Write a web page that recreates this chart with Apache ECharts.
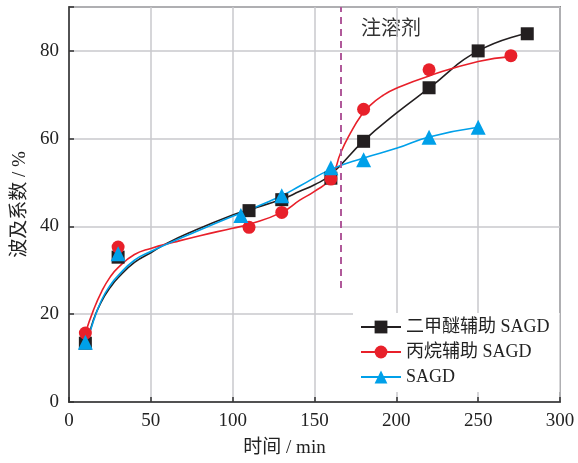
<!DOCTYPE html>
<html>
<head>
<meta charset="utf-8">
<script src="https://cdn.jsdelivr.net/npm/echarts@6/dist/echarts.min.js"></script>
<style>html,body{margin:0;padding:0;background:#fff}#c{width:578px;height:463px}</style>
</head>
<body>
<div id="c"></div>
<script>
// Series names
const names = ['二甲醚辅助 SAGD', '丙烷辅助 SAGD', 'SAGD'];
// Measured points
const dmeX = [10, 30, 110, 130, 160, 180, 220, 250, 280];
const dmeY = [13.4, 33.0, 43.6, 46.1, 51.0, 59.4, 71.6, 80.0, 83.9];
const propX = [10, 30, 110, 130, 160, 180, 220, 270];
const propY = [15.7, 35.3, 39.8, 43.2, 50.8, 66.7, 75.7, 78.9];
const sagdX = [10, 30, 105, 130, 160, 180, 220, 250];
const sagdY = [13.6, 33.8, 42.5, 47.0, 53.4, 55.2, 60.3, 62.6];
// Fitted curves
const dmeCurveX = [11, 15, 20, 25, 30, 40, 50, 60, 75, 100, 110, 130, 141, 150, 160, 180, 200, 220, 250, 280];
const dmeCurveY = [13.4, 18.8, 23.0, 26.0, 28.3, 31.8, 34.0, 36.2, 38.8, 42.6, 43.8, 46.2, 48.0, 49.5, 51.8, 59.5, 65.8, 71.5, 80.0, 84.0];
const propCurveX = [10, 15, 20, 25, 30, 40, 50, 64, 80, 100, 110, 130, 141, 150, 160, 166, 172, 178, 184, 192, 200, 220, 250, 270];
const propCurveY = [15.7, 21.0, 25.2, 28.4, 30.6, 33.6, 35.0, 36.4, 37.9, 39.6, 40.5, 43.2, 46.0, 48.0, 51.0, 56.8, 61.3, 65.0, 67.6, 69.9, 71.5, 74.3, 77.6, 78.7];
const sagdCurveX = [11, 15, 20, 25, 30, 40, 50, 60, 75, 100, 105, 130, 141, 160, 180, 200, 220, 250];
const sagdCurveY = [13.5, 18.5, 23.3, 26.5, 28.8, 32.3, 34.3, 36.0, 38.4, 42.3, 43.0, 47.0, 49.2, 53.0, 55.6, 57.8, 60.4, 62.6];
// Injection marker
const injectX = 166;
const injectYFrom = 26;
const annotation = '注溶剂';
// Axis ticks
const xTicks = [0, 50, 100, 150, 200, 250, 300];
const yTicks = [0, 20, 40, 60, 80];

const colors = ['#231f20', '#e8202a', '#00a0e9'];
const symbols = ['rect', 'circle', 'triangle'];
const symSizes = [13, 13, 15];
const zip = (a, b) => a.map((v, i) => [v, b[i]]);
const curves = [zip(dmeCurveX, dmeCurveY), zip(propCurveX, propCurveY), zip(sagdCurveX, sagdCurveY)];
const points = [zip(dmeX, dmeY), zip(propX, propY), zip(sagdX, sagdY)];

const serif = 'Liberation Serif, Noto Sans CJK SC, serif';
const series = [];
names.forEach((n, i) => {
  series.push({
    name: n, type: 'line', data: curves[i], smooth: 0.5, showSymbol: false,
    symbol: symbols[i], symbolSize: symSizes[i],
    lineStyle: { color: colors[i], width: 1.6 }, itemStyle: { color: colors[i] },
    z: 2, silent: true,
    markLine: i === 0 ? {
      silent: true, symbol: 'none', label: { show: false },
      lineStyle: { color: '#b0599a', type: [7, 5], width: 2 },
      data: [[{ coord: [injectX, injectYFrom] }, { coord: [injectX, 90] }]]
    } : undefined
  });
});
names.forEach((n, i) => {
  series.push({
    name: n, type: 'scatter', data: points[i], symbol: symbols[i], symbolSize: symSizes[i],
    itemStyle: { color: colors[i], opacity: 1 }, z: 3
  });
});

const chart = echarts.init(document.getElementById('c'));
chart.setOption({
  animation: false,
  backgroundColor: '#fff',
  textStyle: { fontFamily: serif },
  grid: { left: 69, right: 18, top: 7, bottom: 60, show: true, borderColor: '#333', borderWidth: 1.5 },
  xAxis: {
    type: 'value', min: xTicks[0], max: xTicks[xTicks.length - 1], interval: 50,
    name: '时间 / min', nameLocation: 'middle', nameGap: 37,
    nameTextStyle: { fontSize: 19, color: '#222', fontFamily: serif, padding: [0, 60, 0, 0] },
    axisLine: { show: true, lineStyle: { color: '#333', width: 1.5 } },
    axisTick: { show: true, inside: true, length: 5, lineStyle: { color: '#333', width: 1.5 } },
    axisLabel: { fontSize: 19, color: '#222', margin: 10, fontFamily: serif },
    splitLine: { show: true, lineStyle: { color: '#c8c8cc', width: 1.5 } }
  },
  yAxis: {
    type: 'value', min: 0, max: 90, interval: 20,
    name: '波及系数 / %', nameLocation: 'middle', nameGap: 38, nameRotate: 90,
    nameTextStyle: { fontSize: 19, color: '#222', fontFamily: serif },
    axisLine: { show: true, lineStyle: { color: '#333', width: 1.5 } },
    axisTick: { show: true, inside: true, length: 5, lineStyle: { color: '#333', width: 1.5 } },
    axisLabel: { fontSize: 19, color: '#222', margin: 10, fontFamily: serif,
      formatter: v => yTicks.includes(v) ? String(v) : '' },
    splitLine: { show: true, lineStyle: { color: '#c8c8cc', width: 1.5 } }
  },
  legend: {
    data: names, orient: 'vertical', left: 353, top: 313,
    backgroundColor: '#fff', padding: [5, 10, 6, 7],
    itemWidth: 40, itemHeight: 16, itemGap: 7,
    textStyle: { fontSize: 18, color: '#222', fontFamily: serif }
  },
  graphic: [{
    type: 'text', left: 361, top: 17, silent: true,
    style: { text: annotation, fontSize: 20, fill: '#333', fontFamily: 'Noto Sans CJK SC' }
  }],
  series: series
});
</script>
</body>
</html>
